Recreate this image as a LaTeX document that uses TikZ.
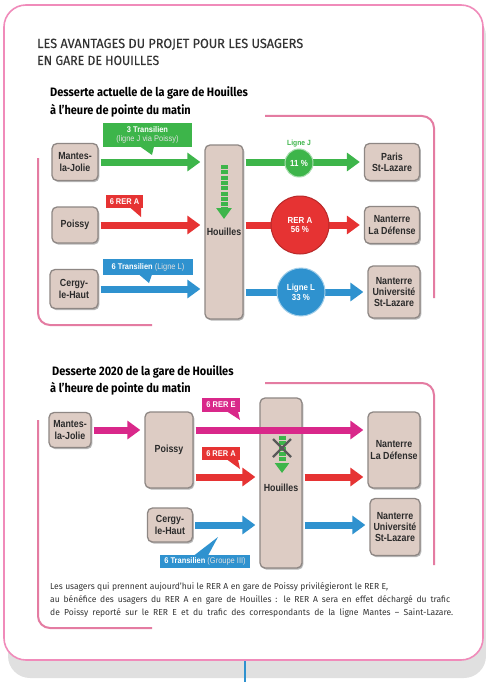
\documentclass[tikz,border=0pt]{standalone}
\usepackage{fontspec}
\setmainfont{Fira Sans}
\newfontfamily\cond[FakeStretch=0.86]{Liberation Sans}
\newfontfamily\condc[FakeStretch=0.9]{Liberation Sans}
\newfontfamily\tit[FakeBold=0.25]{Fira Sans}
\newfontfamily\subt[FakeStretch=0.9]{Fira Sans}
\newfontfamily\body[FakeStretch=0.98]{Fira Sans}
\usetikzlibrary{arrows.meta,calc}
\definecolor{cgreen}{HTML}{3DB54A}
\definecolor{cred}{HTML}{E63333}
\definecolor{cblue}{HTML}{2F92CF}
\definecolor{cmag}{HTML}{D9288A}
\definecolor{cbrack}{HTML}{E47CA2}
\definecolor{cframe}{HTML}{F08BBA}
\definecolor{boxfill}{HTML}{DDCCC4}
\definecolor{boxedge}{HTML}{8E8784}
\definecolor{txt}{HTML}{2B2B2B}
\definecolor{titc}{HTML}{333333}
\tikzset{
  station/.style={rectangle, rounded corners=5pt, fill=boxfill, draw=boxedge, line width=1.3pt,
    preaction={fill=black!28, transform canvas={xshift=1.3pt, yshift=-1.6pt}},
    font=\cond\bfseries\fontsize{10.3}{11.2}\selectfont, text=txt, align=center, inner sep=0pt},
  arr/.style={line width=7pt, -{Triangle[width=18pt,length=13pt]}, shorten <=2pt, shorten >=4pt},
  callout/.style={rectangle, inner sep=0pt, text=white, align=center,
    font=\condc\bfseries\fontsize{8.3}{8.8}\selectfont},
  ring/.style={circle, inner sep=0pt, text=white, align=center, line width=1pt,
    font=\condc\bfseries\fontsize{8.8}{9.8}\selectfont},
  bracket/.style={cbrack, line width=2pt, rounded corners=12pt},
  sub/.style={anchor=base west, inner sep=0pt, font=\subt\bfseries\fontsize{12.2}{14}\selectfont, text=black},
}
\begin{document}
\begin{tikzpicture}[x=1pt,y=-1pt]
\useasboundingbox (0,0) rectangle (486,682);
% frame
\fill[black!12, rounded corners=22pt] (8,14) rectangle (486,678);
\draw[cframe, line width=1.6pt, fill=white, rounded corners=22pt] (4,5) rectangle (483,660);
\draw[cblue, line width=1.5pt] (245,661) -- (245,682);
% titles
\node[anchor=base west, inner sep=0pt, font=\tit\fontsize{13}{15}\selectfont, text=titc] (t1) at (37,48) {\resizebox{266pt}{9.3pt}{LES AVANTAGES DU PROJET POUR LES USAGERS}};
\node[anchor=base west, inner sep=0pt, font=\tit\fontsize{13}{15}\selectfont, text=titc] (t2) at (37,65) {\resizebox{122pt}{9.3pt}{EN GARE DE HOUILLES}};
\node[sub] (s1a) at (50,97) {Desserte actuelle de la gare de Houilles};
\node[sub] (s1b) at (50,115) {à l’heure de pointe du matin};
\node[sub] (s2a) at (52,375) {Desserte 2020 de la gare de Houilles};
\node[sub] (s2b) at (50,392) {à l’heure de pointe du matin};
% brackets
\draw[bracket] (265,116) -- (434,116) -- (434,298);
\draw[bracket] (38,158) -- (38,325) -- (152,325);
\draw[bracket] (265,383) -- (434,383) -- (434,565);
\draw[bracket] (38,420) -- (38,628) -- (152,628);

% ===== section 1 =====
\node[station, minimum width=46, minimum height=37] (mj1) at (75,162) {Mantes-\\la-Jolie};
\node[station, minimum width=46, minimum height=36] (po1) at (75,225) {Poissy};
\node[station, minimum width=48, minimum height=39] (cg1) at (74,289) {Cergy-\\le-Haut};
\node[station, minimum width=38, minimum height=174] (ho1) at (224,232) {Houilles};
\node[station, minimum width=55, minimum height=37] (ps1) at (392,162) {Paris\\St-Lazare};
\node[station, minimum width=55, minimum height=37] (nd1) at (392,225) {Nanterre\\La Défense};
\node[station, minimum width=52, minimum height=52] (nu1) at (394,292) {Nanterre\\Université\\St-Lazare};

\coordinate (g1a) at (224,165);
\coordinate (g1b) at (224,219);
\draw[cgreen, line width=7pt, dash pattern=on 4pt off 1.3pt, -{Triangle[width=15pt,length=11pt]}] (g1a) -- (g1b);

\draw[arr, cgreen] (mj1.east) -- (mj1.east -| ho1.west);
\draw[arr, cred] (po1.east) -- (po1.east -| ho1.west);
\draw[arr, cblue] (cg1.east) -- (cg1.east -| ho1.west);
\draw[arr, cgreen] (ho1.east |- ps1.west) -- (ps1.west);
\draw[arr, cred] (ho1.east |- nd1.west) -- (nd1.west);
\draw[arr, cblue] (ho1.east |- nu1.west) -- (nu1.west);

\node[ring, fill=cgreen, draw=cgreen!45!white, minimum size=28] (c11) at (299,163) {11 \%};
\node[anchor=base, text=cgreen, font=\condc\bfseries\fontsize{7.5}{8}\selectfont] (lj) at (299,145) {Ligne J};
\node[ring, fill=cred, draw=cred!80!black, minimum size=58] (c56) at (300,225) {RER A\\56 \%};
\node[ring, fill=cblue, draw=cblue!45!white, minimum size=48] (c33) at (301,292) {Ligne L\\33 \%};

% callouts section 1
\node[callout, fill=cgreen, minimum width=89, minimum height=24] (lab1) at (147.5,135) {3 Transilien\\{\mdseries\color{white!88!black}(ligne J via Poissy)}};
\coordinate (tip1) at (152,155);
\fill[cgreen] (140,146.5) -- (154,146.5) -- (tip1) -- cycle;
\node[callout, fill=cred, minimum width=37, minimum height=13] (lab2) at (124.5,201.5) {6 RER A};
\coordinate (tip2) at (141,217);
\fill[cred] (130,207.5) -- (141,207.5) -- (tip2) -- cycle;
\node[callout, fill=cblue, minimum width=90, minimum height=16] (lab3) at (148,267) {6 Transilien {\mdseries\color{white!88!black}(Ligne L)}};
\coordinate (tip3) at (149,283);
\fill[cblue] (139,274.5) -- (152,274.5) -- (tip3) -- cycle;

% ===== section 2 =====
\node[station, minimum width=42, minimum height=35] (mj2) at (70,430) {Mantes-\\la-Jolie};
\node[station, minimum width=48, minimum height=76] (po2) at (169,450) {Poissy};
\node[station, minimum width=42, minimum height=170] (ho2) at (281,483) {\\[6pt]Houilles};
\node[station, minimum width=52, minimum height=76] (nd2) at (394,450) {Nanterre\\La Défense};
\node[station, minimum width=45, minimum height=34] (cg2) at (170,525) {Cergy-\\le-Haut};
\node[station, minimum width=50, minimum height=57] (nu2) at (395,527) {Nanterre\\Université\\St-Lazare};

\coordinate (g2a) at (282,436);
\coordinate (g2b) at (282,473);
\draw[cgreen, line width=7pt, dash pattern=on 4pt off 1.3pt, -{Triangle[width=14pt,length=10pt]}] (g2a) -- (g2b);
\coordinate (x0) at (282,448);
\draw[black!65, line width=2.2pt] ($(x0)+(-9,-9)$) -- ($(x0)+(9,9)$) ($(x0)+(-9,9)$) -- ($(x0)+(9,-9)$);

\draw[arr, cmag] (mj2.east) -- (mj2.east -| po2.west);
\draw[arr, cmag] (po2.east |- mj2.east) -- (nd2.west |- mj2.east);
\coordinate (r2) at (0,477);
\draw[arr, cred] (po2.east |- r2) -- (ho2.west |- r2);
\draw[arr, cred] (ho2.east |- r2) -- (nd2.west |- r2);
\draw[arr, cblue] (cg2.east) -- (cg2.east -| ho2.west);
\draw[arr, cblue] (ho2.east |- cg2.east) -- (nu2.west |- cg2.east);

\node[callout, fill=cmag, minimum width=38, minimum height=14] (lab4) at (221,405) {6 RER E};
\coordinate (tip4) at (240,420);
\fill[cmag] (227,411.5) -- (238,411.5) -- (tip4) -- cycle;
\node[callout, fill=cred, minimum width=38, minimum height=13] (lab5) at (221,453.5) {6 RER A};
\coordinate (tip5) at (240,469);
\fill[cred] (227,459.5) -- (238,459.5) -- (tip5) -- cycle;
\node[callout, fill=cblue, minimum width=90, minimum height=13] (lab6) at (205,561.5) {6 Transilien {\mdseries\color{white!88!black}(Groupe III)}};
\coordinate (tip6) at (218,537);
\fill[cblue] (194,555.5) -- (208,555.5) -- (tip6) -- cycle;

% bottom text
\node[anchor=base west, inner sep=0pt, align=left, font=\body\fontsize{8.7}{12.6}\selectfont, text=titc] (bt) at (50,615)
 {\makebox[338pt][s]{Les usagers qui prennent aujourd’hui le RER A en gare de Poissy privilégieront le RER E,}\\
  \makebox[400pt][s]{au bénéfice des usagers du RER A en gare de Houilles : le RER A sera en effet déchargé du trafic}\\
  \makebox[403pt][s]{de Poissy reporté sur le RER E et du trafic des correspondants de la ligne Mantes – Saint-Lazare.}};
\end{tikzpicture}
\end{document}
